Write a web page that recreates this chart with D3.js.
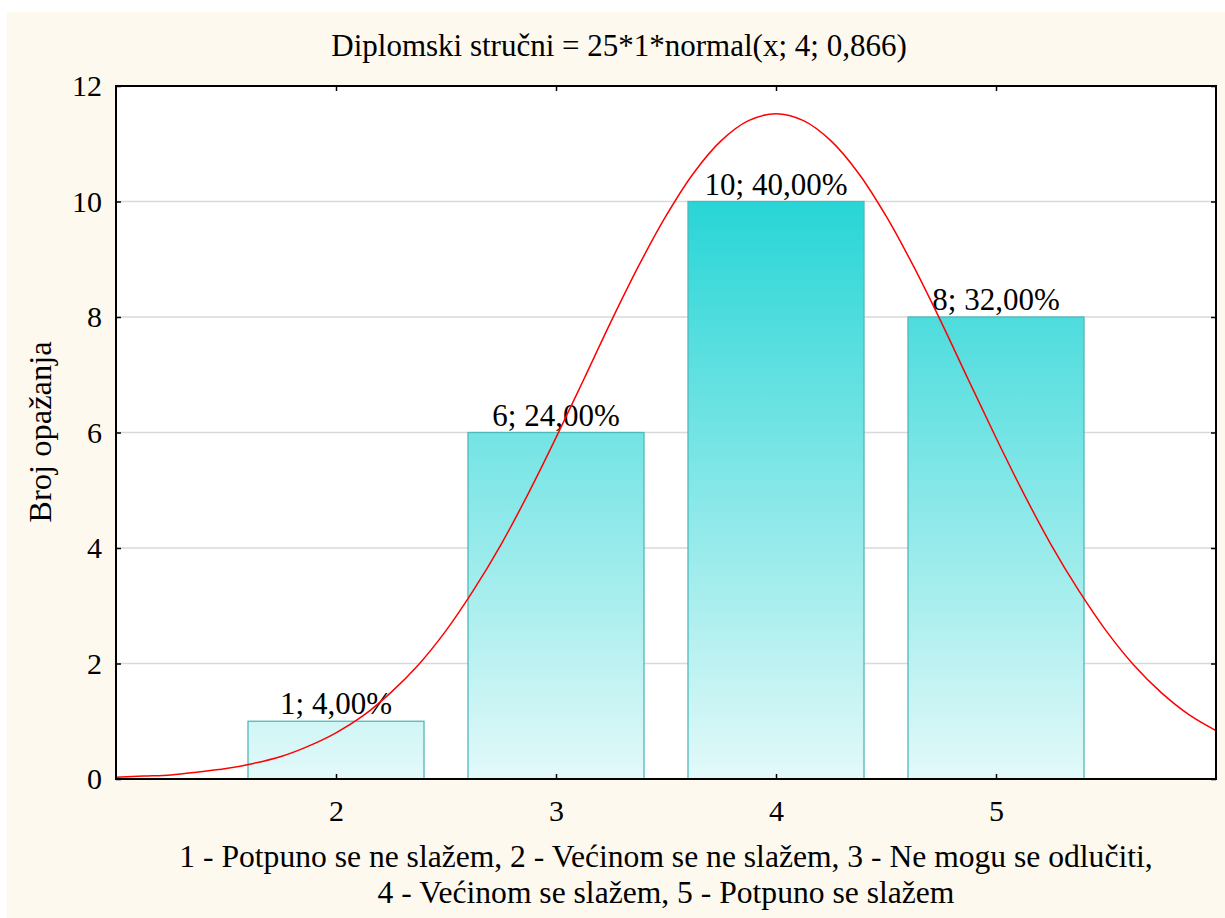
<!DOCTYPE html>
<html>
<head>
<meta charset="utf-8">
<script src="https://cdn.jsdelivr.net/npm/d3@7"></script>
<style>
  body { margin: 0; background: #ffffff; }
  svg { display: block; }
  text { font-family: "Liberation Serif", "Times New Roman", serif; fill: #000; }
</style>
</head>
<body>
<svg width="1225" height="918"></svg>
<script>
// data
var categories = [2, 3, 4, 5];
var counts = [1, 6, 10, 8];
var percents = ["4,00%", "24,00%", "40,00%", "32,00%"];
var yTicks = [0, 2, 4, 6, 8, 10, 12];
var xTicks = [2, 3, 4, 5];

// fitted normal curve
var curveX = [1, 1.125, 1.25, 1.375, 1.5, 1.625, 1.75, 1.875, 2, 2.125, 2.25, 2.375, 2.5,
  2.625, 2.75, 2.875, 3, 3.125, 3.25, 3.375, 3.5, 3.625, 3.75, 3.875, 4,
  4.125, 4.25, 4.375, 4.5, 4.625, 4.75, 4.875, 5, 5.125, 5.25, 5.375, 5.5,
  5.625, 5.75, 5.875, 6];
var curveY = [0.03, 0.05, 0.07, 0.12, 0.18, 0.27, 0.39, 0.57, 0.8, 1.1, 1.5, 1.98, 2.57,
  3.27, 4.06, 4.95, 5.91, 6.91, 7.92, 8.88, 9.75, 10.49, 11.05, 11.4, 11.52,
  11.4, 11.05, 10.49, 9.75, 8.88, 7.92, 6.91, 5.91, 4.95, 4.06, 3.27, 2.57,
  1.98, 1.5, 1.12, 0.84];

var titleText = "Diplomski stručni = 25*1*normal(x; 4; 0,866)";
var yLabel = "Broj opažanja";
var captionLines = [
  "1 - Potpuno se ne slažem, 2 - Većinom se ne slažem, 3 - Ne mogu se odlučiti,",
  "4 - Većinom se slažem, 5 - Potpuno se slažem"
];

var svg = d3.select("svg");
var svgWidth = +svg.attr("width");
var svgHeight = +svg.attr("height");

var plot = { l: 116, t: 86, r: 1216, b: 779 };

var xscale = d3.scaleLinear().domain([1, 6]).range([plot.l, plot.r]);
var yscale = d3.scaleLinear().domain([0, 12]).range([plot.b, plot.t]);
var barW = 0.8;

// cream background
svg.append("rect")
  .attr("x", 7).attr("y", 12)
  .attr("width", svgWidth - 7).attr("height", svgHeight - 12)
  .attr("fill", "#fdf9ef");

// plot area
svg.append("rect")
  .attr("x", plot.l).attr("y", plot.t)
  .attr("width", plot.r - plot.l).attr("height", plot.b - plot.t)
  .attr("fill", "#ffffff");

var defs = svg.append("defs");
var grad = defs.append("linearGradient")
  .attr("id", "barGrad")
  .attr("gradientUnits", "userSpaceOnUse")
  .attr("x1", 0).attr("x2", 0)
  .attr("y1", yscale(0)).attr("y2", yscale(10));
grad.append("stop").attr("offset", "0%").attr("stop-color", "#e3f9f9");
grad.append("stop").attr("offset", "100%").attr("stop-color", "#28d5d6");

defs.append("clipPath").attr("id", "plotClip")
  .append("rect")
  .attr("x", plot.l).attr("y", plot.t)
  .attr("width", plot.r - plot.l).attr("height", plot.b - plot.t);

// gridlines
svg.append("g")
  .selectAll("line")
  .data(yTicks.filter(function (d) { return d > 0 && d < 12; }))
  .enter()
  .append("line")
  .attr("x1", plot.l).attr("x2", plot.r)
  .attr("y1", function (d) { return yscale(d); })
  .attr("y2", function (d) { return yscale(d); })
  .attr("stroke", "#d9d9d9")
  .attr("stroke-width", 1.3);

// bars
var barG = svg.append("g");
barG.selectAll("rect")
  .data(categories)
  .enter()
  .append("rect")
  .attr("x", function (d) { return xscale(d - barW / 2); })
  .attr("width", function (d) { return xscale(d + barW / 2) - xscale(d - barW / 2); })
  .attr("y", function (d, i) { return yscale(counts[i]); })
  .attr("height", function (d, i) { return yscale(0) - yscale(counts[i]); })
  .attr("fill", "url(#barGrad)")
  .attr("stroke", "#4fb8ba")
  .attr("stroke-width", 1.3);

// bar labels
barG.selectAll("text")
  .data(categories)
  .enter()
  .append("text")
  .attr("x", function (d) { return xscale(d); })
  .attr("y", function (d, i) { return yscale(counts[i]) - 7; })
  .attr("text-anchor", "middle")
  .style("font-size", "31px")
  .text(function (d, i) { return counts[i] + "; " + percents[i]; });

// normal curve
var line = d3.line()
  .x(function (d, i) { return xscale(curveX[i]); })
  .y(function (d) { return yscale(d); })
  .curve(d3.curveCatmullRom);

svg.append("path")
  .datum(curveY)
  .attr("clip-path", "url(#plotClip)")
  .attr("d", line)
  .attr("fill", "none")
  .attr("stroke", "#ff0000")
  .attr("stroke-width", 1.5);

// axes (ticks pointing inward)
var leftAxis = svg.append("g")
  .attr("transform", "translate(" + plot.l + ",0)")
  .call(d3.axisLeft(yscale).tickValues(yTicks).tickSize(-5).tickPadding(14).tickFormat(d3.format("d")));
var rightAxis = svg.append("g")
  .attr("transform", "translate(" + plot.r + ",0)")
  .call(d3.axisRight(yscale).tickValues(yTicks).tickSize(-5).tickFormat(""));
var bottomAxis = svg.append("g")
  .attr("transform", "translate(0," + plot.b + ")")
  .call(d3.axisBottom(xscale).tickValues(xTicks).tickSize(-5).tickPadding(21).tickFormat(d3.format("d")));
var topAxis = svg.append("g")
  .attr("transform", "translate(0," + plot.t + ")")
  .call(d3.axisTop(xscale).tickValues(xTicks).tickSize(-5).tickFormat(""));

[leftAxis, rightAxis, bottomAxis, topAxis].forEach(function (a) {
  a.attr("font-family", null);
  a.select(".domain").remove();
  a.selectAll(".tick line").attr("stroke", "#000").attr("stroke-width", 1.5);
  a.selectAll(".tick text")
    .style("font-family", "'Liberation Serif', serif")
    .style("font-size", "30px")
    .attr("fill", "#000");
});

// frame
svg.append("rect")
  .attr("x", plot.l).attr("y", plot.t)
  .attr("width", plot.r - plot.l).attr("height", plot.b - plot.t)
  .attr("fill", "none")
  .attr("stroke", "#000")
  .attr("stroke-width", 2);

// title
svg.append("text")
  .attr("x", 619).attr("y", 56)
  .attr("text-anchor", "middle")
  .style("font-size", "31px")
  .text(titleText);

// y label
svg.append("text")
  .attr("transform", "translate(51,432) rotate(-90)")
  .attr("text-anchor", "middle")
  .style("font-size", "32.5px")
  .text(yLabel);

// caption
svg.append("g")
  .selectAll("text")
  .data(captionLines)
  .enter()
  .append("text")
  .attr("x", 666)
  .attr("y", function (d, i) { return 867 + i * 36; })
  .attr("text-anchor", "middle")
  .style("font-size", "31.6px")
  .text(function (d) { return d; });
</script>
</body>
</html>
